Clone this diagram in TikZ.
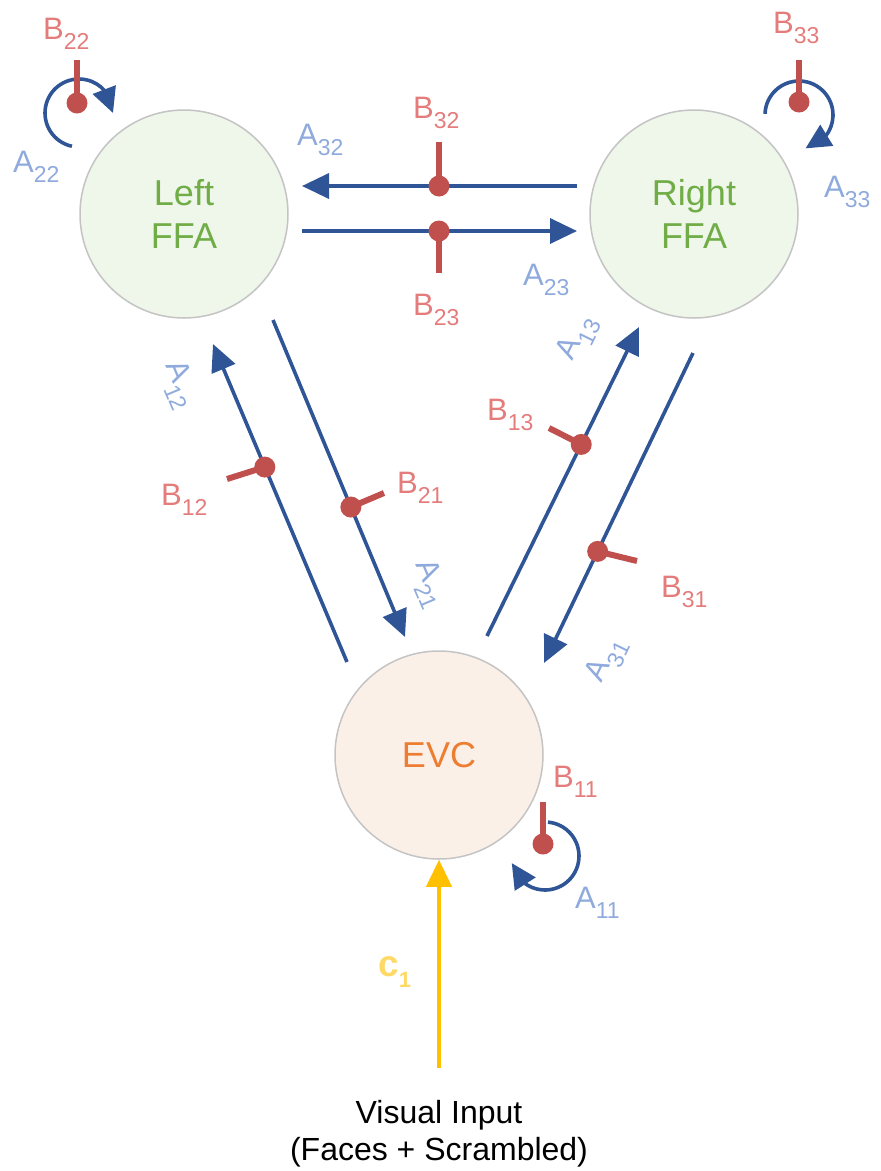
\documentclass[tikz,border=0pt]{standalone}
\usepackage{fontspec}
\setmainfont{Liberation Sans}
\usetikzlibrary{arrows.meta,bending,calc}

\definecolor{arrowblue}{HTML}{2F5597}
\definecolor{inhred}{HTML}{C0504D}
\definecolor{blab}{HTML}{E47C7C}
\definecolor{alab}{HTML}{8FAADC}
\definecolor{ffagreen}{HTML}{70AD47}
\definecolor{ffafill}{HTML}{EFF6EA}
\definecolor{evcorange}{HTML}{ED7D31}
\definecolor{evcfill}{HTML}{FBF0E8}
\definecolor{ringgrey}{HTML}{C4C4C4}
\definecolor{inputgold}{HTML}{FFC000}
\definecolor{clab}{HTML}{FFD966}

% parameter label: letter with a lowered index
\newcommand\parlab[2]{#1\raisebox{-0.35em}{\fontsize{23}{23}\selectfont #2}}

\tikzset{
  region/.style={circle, draw=ringgrey, line width=1.5pt, minimum size=208pt,
    inner sep=0pt, align=center, font=\fontsize{36}{43}\selectfont},
  conn/.style={draw=arrowblue, line width=3.6pt,
    -{Triangle[length=27pt,width=25pt]}},
  selfconn/.style={draw=arrowblue, line width=3.6pt,
    -{Triangle[length=25pt,width=24pt]}},
  inputconn/.style={draw=inputgold, line width=4pt,
    -{Triangle[length=27pt,width=25pt]}},
  stem/.style={draw=inhred, line width=6pt},
  knob/.style={fill=inhred, circle, inner sep=0pt, minimum size=21pt},
  blabel/.style={text=blab, inner sep=0pt, anchor=base west,
    font=\fontsize{31}{31}\selectfont},
  alabel/.style={text=alab, inner sep=0pt, anchor=base west,
    font=\fontsize{31}{31}\selectfont},
  ralabel/.style={text=alab, inner sep=0pt,
    font=\fontsize{31}{31}\selectfont},
  caption/.style={inner sep=0pt, anchor=base, font=\fontsize{32}{32}\selectfont},
}

\begin{document}
\begin{tikzpicture}[x=1pt, y=-1pt]
\useasboundingbox (0,0) rectangle (881,1171);

% brain regions
\node[region, fill=ffafill, text=ffagreen] (lffa) at (184,214) {Left\\FFA};
\node[region, fill=ffafill, text=ffagreen] (rffa) at (694,214) {Right\\FFA};
\node[region, fill=evcfill, text=evcorange] (evc) at (439,755) {EVC};

% end points of the between-region connections
\coordinate (a32s) at (577,186); \coordinate (a32e) at (302,186);
\coordinate (a23s) at (302,231); \coordinate (a23e) at (577,231);
\coordinate (a12s) at (347,662); \coordinate (a12e) at (213,344);
\coordinate (a21s) at (273,320); \coordinate (a21e) at (405,637);
\coordinate (a13s) at (487,636); \coordinate (a13e) at (639,327);
\coordinate (a31s) at (693,353); \coordinate (a31e) at (544,663);

\draw[conn] (a32s) -- (a32e);
\draw[conn] (a23s) -- (a23e);
\draw[conn] (a12s) -- (a12e);
\draw[conn] (a21s) -- (a21e);
\draw[conn] (a13s) -- (a13e);
\draw[conn] (a31s) -- (a31e);

% modulatory inputs on the connections
\coordinate (b32) at (439,186); \coordinate (b32t) at (439,142);
\coordinate (b23) at (439,231); \coordinate (b23t) at (439,273);
\coordinate (b12) at ($(a12s)!0.613!(a12e)$); \coordinate (b12t) at (227,479);
\coordinate (b21) at ($(a21s)!0.59!(a21e)$); \coordinate (b21t) at (384,493);
\coordinate (b13) at ($(a13s)!0.62!(a13e)$); \coordinate (b13t) at (549,428);
\coordinate (b31) at ($(a31s)!0.64!(a31e)$); \coordinate (b31t) at (637,561);

\foreach \d in {b32,b23,b12,b21,b13,b31}{
  \draw[stem] (\d) -- (\d t);
  \node[knob] at (\d) {};
}

% self connections
\coordinate (l22) at (79,113);
\coordinate (l33) at (799,115);
\coordinate (l11) at (545,856);
\draw[selfconn] ($(l22)+(102:34)$) arc[start angle=102, end angle=360, radius=34];
\draw[selfconn] ($(l33)+(182:34)$) arc[start angle=182, end angle=439, radius=34];
\draw[selfconn] ($(l11)+(275:34)$) arc[start angle=275, end angle=528, radius=34];

\coordinate (b22) at (77,103); \coordinate (b22t) at (77,60);
\coordinate (b33) at (799,102); \coordinate (b33t) at (799,60);
\coordinate (b11) at (543,844); \coordinate (b11t) at (543,802);
\foreach \d in {b22,b33,b11}{
  \draw[stem] (\d) -- (\d t);
  \node[knob] at (\d) {};
}

% driving input
\node[caption] (vis) at (439,1123) {Visual Input};
\node[caption] (visb) at (439,1160) {(Faces + Scrambled)};
\coordinate (c1s) at (439,1068);
\draw[inputconn] (c1s) -- (evc.south);

% labels
\node[blabel] (lb22) at (43,39) {\parlab{B}{22}};
\node[alabel] (la22) at (13,172) {\parlab{A}{22}};
\node[blabel] (lb33) at (773,33) {\parlab{B}{33}};
\node[alabel] (la33) at (824,197) {\parlab{A}{33}};
\node[blabel] (lb32) at (413,118) {\parlab{B}{32}};
\node[alabel] (la32) at (297,145) {\parlab{A}{32}};
\node[blabel] (lb23) at (413,315) {\parlab{B}{23}};
\node[alabel] (la23) at (523,285) {\parlab{A}{23}};
\node[blabel] (lb12) at (161,505) {\parlab{B}{12}};
\node[blabel] (lb21) at (397,493) {\parlab{B}{21}};
\node[blabel] (lb13) at (487,420) {\parlab{B}{13}};
\node[blabel] (lb31) at (661,597) {\parlab{B}{31}};
\node[blabel] (lb11) at (553,787) {\parlab{B}{11}};
\node[alabel] (la11) at (575,908) {\parlab{A}{11}};
\node[ralabel, rotate=-67] (la12) at (179,385) {\parlab{A}{12}};
\node[ralabel, rotate=-67] (la21) at (429,584) {\parlab{A}{21}};
\node[ralabel, rotate=64] (la13) at (578,338) {\parlab{A}{13}};
\node[ralabel, rotate=64] (la31) at (607,660) {\parlab{A}{31}};
\node[text=clab, inner sep=0pt, anchor=base west, font=\fontsize{37}{37}\selectfont\bfseries]
  (lc1) at (378,976) {c\raisebox{-0.3em}{\fontsize{22}{22}\selectfont\bfseries 1}};
\end{tikzpicture}
\end{document}
